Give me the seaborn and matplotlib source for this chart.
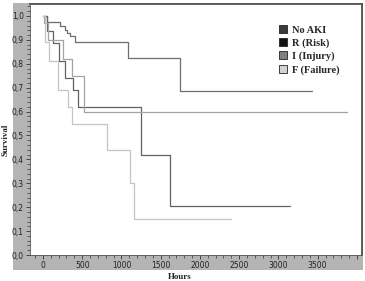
import numpy as np
import pandas as pd
import seaborn as sns
import matplotlib.pyplot as plt
from matplotlib.lines import Line2D
from matplotlib.patches import Rectangle
from matplotlib.ticker import MultipleLocator, FuncFormatter

# Kaplan-Meier step data (hours, survival)
groups = ["No AKI", "R (Risk)", "I (Injury)", "F (Failure)"]
noaki_t = [0, 50, 215, 280, 305, 345, 410, 1085, 1745, 3430]
noaki_s = [1.0, 0.975, 0.958, 0.94, 0.93, 0.915, 0.89, 0.825, 0.685, 0.685]
risk_t = [0, 50, 130, 200, 280, 380, 445, 1250, 1620, 3150]
risk_s = [1.0, 0.935, 0.885, 0.81, 0.74, 0.69, 0.62, 0.42, 0.205, 0.205]
injury_t = [0, 10, 60, 260, 370, 520, 3870]
injury_s = [1.0, 0.97, 0.90, 0.82, 0.75, 0.60, 0.60]
failure_t = [0, 25, 76, 191, 318, 370, 815, 1108, 1160, 2395]
failure_s = [1.0, 0.89, 0.81, 0.69, 0.62, 0.55, 0.44, 0.30, 0.15, 0.15]

line_colors = {"No AKI": "#6e6e6e", "R (Risk)": "#626262",
               "I (Injury)": "#a4a4a4", "F (Failure)": "#c4c4c4"}
legend_colors = {"No AKI": "#3c3c3c", "R (Risk)": "#111111",
                 "I (Injury)": "#808080", "F (Failure)": "#d2d2d2"}

df = pd.concat([
    pd.DataFrame({"Hours": noaki_t, "Survival": noaki_s, "Group": "No AKI"}),
    pd.DataFrame({"Hours": risk_t, "Survival": risk_s, "Group": "R (Risk)"}),
    pd.DataFrame({"Hours": injury_t, "Survival": injury_s, "Group": "I (Injury)"}),
    pd.DataFrame({"Hours": failure_t, "Survival": failure_s, "Group": "F (Failure)"}),
], ignore_index=True)

sns.set_style("white")
fig = plt.figure(figsize=(3.65, 2.81), dpi=100)

# gray frame behind the plot area
frame = Rectangle((13 / 365, 1 - 270 / 281), 350 / 365, 267 / 281,
                  transform=fig.transFigure, facecolor="#b4b4b4",
                  edgecolor="none", zorder=-10)
fig.add_artist(frame)

ax = fig.add_axes([30 / 365, 1 - 255 / 281, 332 / 365, 251 / 281])
ax.set_facecolor("white")

sns.lineplot(data=df, x="Hours", y="Survival", hue="Group", palette=line_colors,
             estimator=None, sort=False, drawstyle="steps-post", linewidth=0.9,
             legend=False, ax=ax)

ax.set_xlim(-165, 4065)
ax.set_ylim(0, 1.05)
ax.xaxis.set_major_locator(MultipleLocator(500))
ax.xaxis.set_minor_locator(MultipleLocator(100))
ax.yaxis.set_major_locator(MultipleLocator(0.1))
ax.yaxis.set_minor_locator(MultipleLocator(0.02))
ax.xaxis.set_major_formatter(FuncFormatter(lambda v, p: f"{int(v)}" if 0 <= v < 4000 else ""))
ax.yaxis.set_major_formatter(FuncFormatter(lambda v, p: f"{v:.1f}".replace(".", ",") if v <= 1.0 else ""))
ax.tick_params(axis="both", which="major", direction="out", length=3, width=0.6,
               color="#333333", labelsize=5.5, labelcolor="#222222", pad=1.5,
               bottom=True, left=True)
ax.tick_params(axis="both", which="minor", direction="out", length=2, width=0.5,
               color="#333333", bottom=True, left=True)

for side in ["left", "bottom"]:
    ax.spines[side].set_color("#555555")
    ax.spines[side].set_linewidth(0.6)
for side in ["top", "right"]:
    ax.spines[side].set_color("#505050")
    ax.spines[side].set_linewidth(1.3)

ax.set_xlabel("")
ax.set_ylabel("")
fig.text(6 / 365, 1 - 140 / 281, "Survival", rotation=90, ha="center", va="center",
         fontsize=6.5, fontweight="bold", family="Liberation Serif")
fig.text(180 / 365, 1 - 277 / 281, "Hours", ha="center", va="center",
         fontsize=6.5, fontweight="bold", family="Liberation Serif")

handles = [Line2D([], [], linestyle="none", marker="s", markersize=6,
                  markerfacecolor=legend_colors[g], markeredgecolor="#222222",
                  markeredgewidth=0.6) for g in groups]
ax.legend(handles, groups, loc="upper left", bbox_to_anchor=(0.735, 0.935),
          frameon=False, prop={"family": "Liberation Serif", "weight": "bold", "size": 7.5},
          handlelength=0.8, handletextpad=0.4, labelspacing=0.35, borderpad=0)

fig.savefig("out.png", dpi=100)
